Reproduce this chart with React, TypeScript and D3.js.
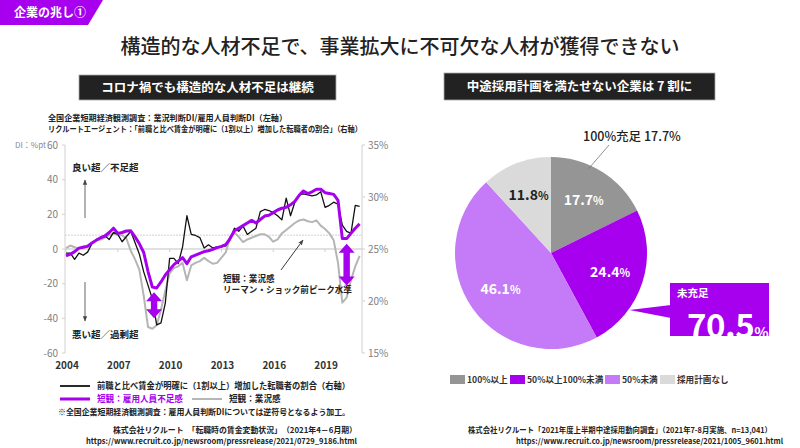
import * as d3 from 'd3';

const FONT = '"Noto Sans CJK JP", "Noto Sans", sans-serif';
const W = 800;
const H = 448;

// 四半期データ 2004Q1〜2021Q1
const startYear = 2004;
// 短観：雇用人員不足感（逆符号, 左軸）
const employmentDI = [
  -4, -3, -1.5, 0.5, 1, 1.5, 3.5, 5, 6.5, 7.5,
  9.5, 12, 9, 9.5, 10.4, 10.5, 7, 3, -2, -13,
  -22, -22.5, -19, -15, -12, -9, -7, -5, -8.5, -4.5,
  -3.5, -2.5, -1.5, -1, -0.2, 0.8, 1.5, 2.5, 6, 10.5,
  12, 13.5, 15, 16.5, 15, 17, 19, 19.5, 21, 22.5,
  23.5, 24, 25.5, 27.5, 31, 33.5, 32, 33, 34.5, 34.5,
  32.5, 32, 31.5, 28, 6, 6, 9, 12, 14.5,
];
// 短観：業況感（左軸）
const businessDI = [
  0.5, 2, 1, 0.5, 1.5, 2, 3.5, 5, 5.5, 6.5,
  8, 9, 8, 8, 6, -1, -6, -12, -27, -45,
  -46, -44, -35, -24, -14, -11, -10, -8, -18, -9.5,
  -8, -7, -5, -7, -8.5, -8, -5, -2, 7, 9.5,
  7, 4, 5.5, 6.5, 7.5, 8.5, 8.5, 7, 4.2, 5.5,
  9, 11, 13, 15, 16.5, 17, 16, 15.5, 16.5, 13.5,
  11.5, 9, 5, -8, -31, -28, -18, -10, -4,
];
// 前職と比べ賃金が明確に（1割以上）増加した転職者の割合（右軸, %）
const wageUpShare = [
  24.6, 24.6, 24.0, 24.6, 24.4, 24.7, 25.5, 25.9, 26.1, 26.3,
  25.9, 26.6, 26.4, 25.7, 26.2, 26.7, 25.6, 24.5, 22.8, 21.5,
  20.2, 17.7, 17.9, 19.8, 24.1, 24.1, 23.6, 25.2, 28.2, 26.4,
  26.3, 26.1, 25.1, 25.4, 25.1, 25.2, 25.2, 25.3, 25.9, 27.0,
  26.7, 27.2, 26.4, 26.7, 27.0, 28.6, 28.8, 28.7, 28.5, 28.2,
  27.8, 29.9, 28.2, 29.5, 30.2, 30.3, 30.2, 30.1, 30.2, 30.5,
  29.0, 29.2, 29.5, 29.3, 27.3, 26.7, 26.5, 29.2, 29.1,
];

const yearTicks = [2004, 2007, 2010, 2013, 2016, 2019];
const leftTicks = [60, 40, 20, 0, -20, -40, -60];
const rightTicks = [35, 30, 25, 20, 15];
const preLehmanPeak = 8;

// 中途採用計画の充足状況
const pieLabels = ['100%以上', '50%以上100%未満', '50%未満', '採用計画なし'];
const pieValues = [17.7, 24.4, 46.1, 11.8];
const pieColors = ['#959595', '#a600ee', '#c57bf7', '#dadada'];
const pieTextColors = ['#fff', '#fff', '#fff', '#222'];
const unmetShare = 70.5;

const PURPLE = '#a600ee';

function doubleArrow(cx: number, y1: number, y2: number) {
  const hw = 8, hh = 9, sw = 3.2;
  return `M${cx},${y1} L${cx + hw},${y1 + hh} L${cx + sw},${y1 + hh} L${cx + sw},${y2 - hh} L${cx + hw},${y2 - hh} L${cx},${y2} L${cx - hw},${y2 - hh} L${cx - sw},${y2 - hh} L${cx - sw},${y1 + hh} L${cx - hw},${y1 + hh} Z`;
}

function LineChart() {
  const x = d3.scaleLinear().domain([2004, 2021]).range([66, 359.6]);
  const yL = d3.scaleLinear().domain([-60, 60]).range([353, 145]);
  const yR = d3.scaleLinear().domain([15, 35]).range([353, 145]);
  const t = (i: number) => startYear + i * 0.25;

  const lineL = d3.line<number>().x((_, i) => x(t(i))).y(d => yL(d));
  const lineR = d3.line<number>().x((_, i) => x(t(i))).y(d => yR(d));

  const [x0, x1] = [65, 362];

  return (
    <g fontFamily={FONT}>
      <text x={48} y={121} fontSize={8.4} fontWeight={700} fill="#222" textLength={239} lengthAdjust="spacingAndGlyphs">
        全国企業短期経済観測調査：業況判断DI/雇用人員判断DI（左軸）
      </text>
      <text x={48} y={132} fontSize={8} fontWeight={700} fill="#222" textLength={314} lengthAdjust="spacingAndGlyphs">
        リクルートエージェント：「前職と比べ賃金が明確に（1割以上）増加した転職者の割合」（右軸）
      </text>
      <text x={15} y={148} fontSize={8} fill="#888">DI：%pt</text>

      {/* grid */}
      <line x1={x0} x2={x1} y1={yL(0)} y2={yL(0)} stroke="#d6d6d6" strokeWidth={1.3} />
      <line x1={x0} x2={x1} y1={yL(preLehmanPeak)} y2={yL(preLehmanPeak)} stroke="#d0d0d0" strokeDasharray="2 1" />
      {yearTicks.map(yr => (
        <line key={yr} x1={x(yr)} x2={x(yr)} y1={yL(0)} y2={yL(0) + 3} stroke="#cfcfcf" />
      ))}

      {/* left axis */}
      <line x1={x0} x2={x0} y1={yL(60)} y2={yL(-60)} stroke="#d0d0d0" />
      {leftTicks.map(v => (
        <g key={v}>
          <line x1={x0 - 3} x2={x0} y1={yL(v)} y2={yL(v)} stroke="#d0d0d0" />
          <text x={58} y={yL(v) + 3.5} fontSize={10} fill="#808080" textAnchor="end">{v}</text>
        </g>
      ))}
      {/* right axis */}
      <line x1={x1} x2={x1} y1={yR(35)} y2={yR(15)} stroke="#d0d0d0" />
      {rightTicks.map(v => (
        <g key={v}>
          <line x1={x1} x2={x1 + 3} y1={yR(v)} y2={yR(v)} stroke="#d0d0d0" />
          <text x={368} y={yR(v) + 3.5} fontSize={10} fill="#808080">{v}%</text>
        </g>
      ))}
      {yearTicks.map(yr => (
        <text key={yr} x={x(yr) + 1} y={369} fontSize={10} fontWeight={700} fill="#333" textAnchor="middle">{yr}</text>
      ))}

      {/* series */}
      <path d={lineL(businessDI) || ''} fill="none" stroke="#b5b5b5" strokeWidth={2} strokeLinejoin="round" />
      <path d={lineR(wageUpShare) || ''} fill="none" stroke="#111" strokeWidth={1.3} strokeLinejoin="round" />
      <path d={lineL(employmentDI) || ''} fill="none" stroke={PURPLE} strokeWidth={3} strokeLinejoin="round" />

      {/* annotations */}
      <text x={72} y={171} fontSize={9.5} fontWeight={700} fill="#222">良い超／不足超</text>
      <line x1={85} x2={85} y1={218} y2={180} stroke="#555" strokeWidth={0.9} markerEnd="url(#thinArrow)" />
      <line x1={85} x2={85} y1={282} y2={321} stroke="#555" strokeWidth={0.9} markerEnd="url(#thinArrow)" />
      <text x={72} y={338} fontSize={9.5} fontWeight={700} fill="#222">悪い超／過剰超</text>

      <text x={223} y={282} fontSize={8.6} fontWeight={700} fill="#222">短観：業況感</text>
      <text x={223} y={293} fontSize={8.6} fontWeight={700} fill="#222">リーマン・ショック前ピーク水準</text>
      <line x1={281} x2={303} y1={270} y2={240} stroke="#222" strokeWidth={0.9} markerEnd="url(#thinArrow)" />

      <path d={doubleArrow(x(2009.1), yL(-25), yL(-40))} fill={PURPLE} />
      <path d={doubleArrow(x(2020.25), yL(3), yL(-21))} fill={PURPLE} />

      {/* legend */}
      <line x1={60} x2={90} y1={386} y2={386} stroke="#111" strokeWidth={1.8} />
      <text x={97} y={389} fontSize={8.6} fontWeight={700} fill="#222" textLength={253} lengthAdjust="spacingAndGlyphs">
        前職と比べ賃金が明確に（1割以上）増加した転職者の割合（右軸）
      </text>
      <line x1={60} x2={90} y1={399} y2={399} stroke={PURPLE} strokeWidth={3} />
      <text x={97} y={402} fontSize={8.6} fontWeight={700} fill={PURPLE}>短観：雇用人員不足感</text>
      <line x1={192} x2={222} y1={399} y2={399} stroke="#b5b5b5" strokeWidth={2} />
      <text x={229} y={402} fontSize={8.6} fontWeight={700} fill="#222">短観：業況感</text>
      <text x={58} y={415} fontSize={8.2} fontWeight={700} fill="#222" textLength={292} lengthAdjust="spacingAndGlyphs">
        ※全国企業短期経済観測調査：雇用人員判断DIについては逆符号となるよう加工。
      </text>

      <text x={113} y={433} fontSize={7.9} fontWeight={700} fill="#222" textLength={244} lengthAdjust="spacingAndGlyphs">
        株式会社リクルート　「転職時の賃金変動状況」　（2021年4－6月期）
      </text>
      <text x={86} y={444} fontSize={7.8} fontWeight={700} fill="#222" textLength={271} lengthAdjust="spacingAndGlyphs">
        https://www.recruit.co.jp/newsroom/pressrelease/2021/0729_9186.html
      </text>
    </g>
  );
}

function PieChart() {
  const cx = 551, cy = 253, r = 96;
  const arcs = d3.pie<number>().sort(null).value(d => d)(pieValues);
  const arc = d3.arc<d3.PieArcDatum<number>>().innerRadius(0).outerRadius(r);
  const labelArc = d3.arc<d3.PieArcDatum<number>>().innerRadius(62).outerRadius(62);

  // callout pointer from the edge of the pie
  const a = (126 * Math.PI) / 180;
  const tipX = cx + (r + 1) * Math.sin(a);
  const tipY = cy - (r + 1) * Math.cos(a);
  const box = { x: 670, y: 283, w: 99, h: 53 };

  // leader to the first slice
  const la = (24 * Math.PI) / 180;
  const lx = cx + (r - 4) * Math.sin(la);
  const ly = cy - (r - 4) * Math.cos(la);

  const legendX = [450, 510, 605, 660];

  return (
    <g fontFamily={FONT}>
      <g transform={`translate(${cx},${cy})`}>
        {arcs.map((d, i) => (
          <path key={i} d={arc(d) || ''} fill={pieColors[i]} />
        ))}
        {arcs.map((d, i) => {
          const [px, py] = labelArc.centroid(d);
          return (
            <text key={i} x={px} y={py + 5} fontSize={14} fontWeight={700} fill={pieTextColors[i]} textAnchor="middle">
              {pieValues[i].toFixed(1)}<tspan fontSize={11}>%</tspan>
            </text>
          );
        })}
      </g>

      <line x1={lx} y1={ly} x2={609} y2={145} stroke="#777" strokeWidth={0.8} />
      <text x={583} y={141} fontSize={12.5} fontWeight={500} fill="#222">
        100%充足 {pieValues[0].toFixed(1)}%
      </text>

      <path d={`M${tipX},${tipY} L${box.x + 1},${box.y + 22} L${box.x + 1},${box.y + 35} Z`} fill={PURPLE} />
      <rect x={box.x} y={box.y} width={box.w} height={box.h} fill={PURPLE} />
      <text x={677} y={297} fontSize={10.5} fontWeight={700} fill="#fff">未充足</text>
      <text x={687} y={338} fontSize={33} fontWeight={700} fill="#fff" letterSpacing={-0.5}>
        {unmetShare.toFixed(1)}<tspan fontSize={15}>%</tspan>
      </text>

      {pieLabels.map((lab, i) => (
        <g key={lab}>
          <rect x={legendX[i]} y={375} width={15} height={9} fill={pieColors[i]} />
          <text x={legendX[i] + 17} y={383} fontSize={8.6} fontWeight={700} fill="#333">{lab}</text>
        </g>
      ))}

      <text x={468} y={433} fontSize={7.6} fontWeight={700} fill="#222" textLength={304} lengthAdjust="spacingAndGlyphs">
        株式会社リクルート「2021年度上半期中途採用動向調査」（2021年7-8月実施、n=13,041）
      </text>
      <text x={516} y={444} fontSize={7.6} fontWeight={700} fill="#222" textLength={267} lengthAdjust="spacingAndGlyphs">
        https://www.recruit.co.jp/newsroom/pressrelease/2021/1005_9601.html
      </text>
    </g>
  );
}

export default function App() {
  return (
    <svg
      width={W}
      height={H}
      viewBox={`0 0 ${W} ${H}`}
      style={{ position: 'absolute', left: 0, top: 0, background: '#fff' }}
      fontFamily={FONT}
    >
      <defs>
        <marker id="thinArrow" viewBox="0 0 10 10" refX={9} refY={5} markerWidth={6} markerHeight={6} orient="auto">
          <path d="M0,1 L10,5 L0,9 Z" fill="#444" />
        </marker>
      </defs>
      <rect width={W} height={H} fill="#fff" />

      {/* tag */}
      <path d="M0,0 L103,0 L88,25 L0,25 Z" fill={PURPLE} />
      <text x={14} y={17} fontSize={12} fontWeight={700} fill="#fff">企業の兆し①</text>

      <text x={400} y={54} fontSize={20} fontWeight={500} fill="#222" textAnchor="middle">
        構造的な人材不足で、事業拡大に不可欠な人材が獲得できない
      </text>

      <rect x={79} y={75} width={257} height={25} fill="#222" stroke="#aaa" strokeWidth={0.8} />
      <text x={207.5} y={92} fontSize={12.5} fontWeight={700} fill="#fff" textAnchor="middle">
        コロナ禍でも構造的な人材不足は継続
      </text>
      <rect x={444} y={73} width={271} height={27} fill="#222" stroke="#aaa" strokeWidth={0.8} />
      <text x={579.5} y={91} fontSize={12.5} fontWeight={700} fill="#fff" textAnchor="middle">
        中途採用計画を満たせない企業は 7 割に
      </text>

      <LineChart />
      <PieChart />
    </svg>
  );
}
